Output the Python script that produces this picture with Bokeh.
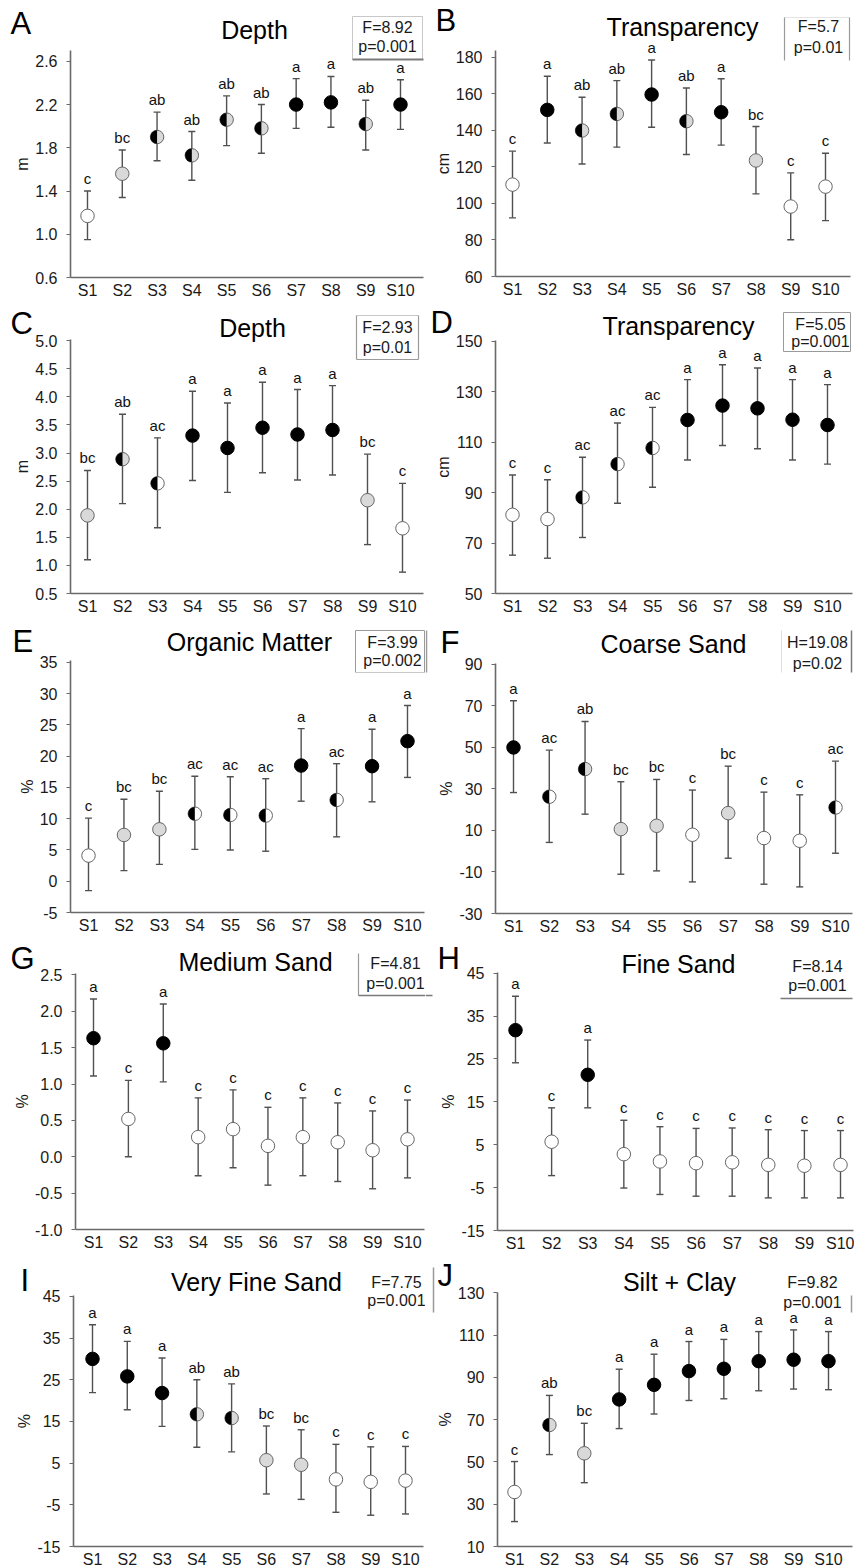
import math
from bokeh.plotting import figure
from bokeh.layouts import column, row
from bokeh.models import (ColumnDataSource, Range1d, FixedTicker, Label, LabelSet,
                          BoxAnnotation, PrintfTickFormatter)
from bokeh.core.properties import value
from bokeh.embed import file_html
from bokeh.resources import INLINE

FONT = "Liberation Sans"

stations = ["S1", "S2", "S3", "S4", "S5", "S6", "S7", "S8", "S9", "S10"]

# ---------------- data ----------------
a_mean = [1.17, 1.56, 1.90, 1.73, 2.06, 1.98, 2.20, 2.22, 2.02, 2.20]
a_lo = [0.95, 1.34, 1.68, 1.50, 1.82, 1.75, 1.98, 1.99, 1.78, 1.97]
a_hi = [1.40, 1.78, 2.13, 1.95, 2.28, 2.20, 2.44, 2.46, 2.24, 2.43]
a_grp = ["c", "bc", "ab", "ab", "ab", "ab", "a", "a", "ab", "a"]
a_ticks = [0.6, 1.0, 1.4, 1.8, 2.2, 2.6]

b_mean = [110.3, 151.2, 139.9, 149.0, 159.6, 145.0, 149.9, 123.5, 98.3, 109.2]
b_lo = [92.1, 133.1, 121.6, 130.8, 141.7, 126.8, 131.9, 105.2, 80.1, 90.6]
b_hi = [128.6, 169.6, 158.1, 167.2, 178.5, 163.2, 168.2, 142.1, 116.7, 127.5]
b_grp = ["c", "a", "ab", "ab", "a", "ab", "a", "bc", "c", "c"]
b_ticks = [60, 80, 100, 120, 140, 160, 180]

c_mean = [1.89, 2.89, 2.46, 3.31, 3.09, 3.45, 3.33, 3.41, 2.16, 1.66]
c_lo = [1.10, 2.10, 1.67, 2.51, 2.30, 2.65, 2.52, 2.61, 1.37, 0.88]
c_hi = [2.69, 3.69, 3.27, 4.10, 3.89, 4.26, 4.13, 4.20, 2.98, 2.46]
c_grp = ["bc", "ab", "ac", "a", "a", "a", "a", "a", "bc", "c"]
c_ticks = [0.5, 1.0, 1.5, 2.0, 2.5, 3.0, 3.5, 4.0, 4.5, 5.0]

d_mean = [81.2, 79.5, 88.1, 101.3, 107.7, 118.8, 124.5, 123.4, 118.9, 116.8]
d_lo = [65.2, 64.0, 72.2, 85.8, 92.1, 102.9, 108.7, 107.4, 102.9, 101.3]
d_hi = [97.0, 95.1, 104.0, 117.6, 123.8, 134.8, 140.7, 139.4, 134.8, 132.8]
d_grp = ["c", "c", "ac", "ac", "ac", "a", "a", "a", "a", "a"]
d_ticks = [50, 70, 90, 110, 130, 150]

e_mean = [4.1, 7.4, 8.3, 10.8, 10.6, 10.5, 18.5, 13.0, 18.4, 22.4]
e_lo = [-1.5, 1.7, 2.7, 5.1, 5.0, 4.8, 12.8, 7.1, 12.7, 16.6]
e_hi = [10.1, 13.1, 14.4, 16.8, 16.7, 16.4, 24.4, 18.8, 24.3, 28.1]
e_grp = ["c", "bc", "bc", "ac", "ac", "ac", "a", "ac", "a", "a"]
e_ticks = [-5, 0, 5, 10, 15, 20, 25, 30, 35]

f_mean = [49.9, 26.2, 39.5, 10.6, 12.2, 7.9, 18.3, 6.3, 5.0, 21.0]
f_lo = [28.2, 4.2, 17.8, -11.1, -9.5, -14.8, -3.4, -15.9, -17.2, -1.0]
f_hi = [72.4, 48.6, 62.4, 33.4, 34.5, 29.4, 40.9, 28.4, 27.1, 43.3]
f_grp = ["a", "ac", "ab", "bc", "bc", "c", "bc", "c", "c", "ac"]
f_ticks = [-30, -10, 10, 30, 50, 70, 90]

g_mean = [1.63, 0.52, 1.56, 0.27, 0.38, 0.15, 0.27, 0.20, 0.09, 0.24]
g_lo = [1.11, 0.00, 1.03, -0.26, -0.15, -0.39, -0.26, -0.34, -0.44, -0.29]
g_hi = [2.17, 1.05, 2.10, 0.81, 0.92, 0.68, 0.81, 0.74, 0.63, 0.78]
g_grp = ["a", "c", "a", "c", "c", "c", "c", "c", "c", "c"]
g_ticks = [-1.0, -0.5, 0.0, 0.5, 1.0, 1.5, 2.0, 2.5]

h_mean = [31.7, 5.7, 21.3, 2.8, 1.1, 0.7, 0.9, 0.3, 0.1, 0.3]
h_lo = [24.1, -2.2, 13.6, -5.1, -6.6, -7.0, -7.0, -7.4, -7.4, -7.4]
h_hi = [39.6, 13.6, 29.4, 10.7, 9.2, 8.8, 8.9, 8.5, 8.3, 8.3]
h_grp = ["a", "c", "a", "c", "c", "c", "c", "c", "c", "c"]
h_ticks = [-15, -5, 5, 15, 25, 35, 45]

i_mean = [30.0, 25.8, 21.8, 16.7, 15.8, 5.7, 4.6, 1.1, 0.5, 0.8]
i_lo = [21.9, 17.8, 13.8, 8.8, 7.7, -2.4, -3.7, -6.8, -7.5, -7.2]
i_hi = [38.2, 34.2, 30.2, 25.0, 24.0, 13.9, 13.0, 9.5, 8.9, 9.0]
i_grp = ["a", "a", "a", "ab", "ab", "bc", "bc", "c", "c", "c"]
i_ticks = [-15, -5, 5, 15, 25, 35, 45]

j_mean = [35.8, 67.5, 54.1, 79.6, 86.5, 93.0, 94.1, 97.7, 98.4, 97.7]
j_lo = [21.8, 53.5, 40.2, 65.8, 72.7, 79.1, 79.9, 83.7, 84.5, 84.2]
j_hi = [50.2, 81.5, 68.3, 93.9, 101.0, 107.0, 108.0, 111.7, 112.5, 111.7]
j_grp = ["c", "ab", "bc", "a", "a", "a", "a", "a", "a", "a"]
j_ticks = [10, 30, 50, 70, 90, 110, 130]

panels = [
    dict(key="A", title="Depth", unit="m", stat=["F=8.92", "p=0.001"], mean=a_mean, lo=a_lo, hi=a_hi, grp=a_grp, ticks=a_ticks, yr=(0.6, 2.70), fmt="%.1f"),
    dict(key="B", title="Transparency", unit="cm", stat=["F=5.7", "p=0.01"], mean=b_mean, lo=b_lo, hi=b_hi, grp=b_grp, ticks=b_ticks, yr=(60, 183.7), fmt="%d"),
    dict(key="C", title="Depth", unit="m", stat=["F=2.93", "p=0.01"], mean=c_mean, lo=c_lo, hi=c_hi, grp=c_grp, ticks=c_ticks, yr=(0.5, 5.02), fmt="%.1f"),
    dict(key="D", title="Transparency", unit="cm", stat=["F=5.05", "p=0.001"], mean=d_mean, lo=d_lo, hi=d_hi, grp=d_grp, ticks=d_ticks, yr=(50, 150.3), fmt="%d"),
    dict(key="E", title="Organic Matter", unit="%", stat=["F=3.99", "p=0.002"], mean=e_mean, lo=e_lo, hi=e_hi, grp=e_grp, ticks=e_ticks, yr=(-5, 35.3), fmt="%d"),
    dict(key="F", title="Coarse Sand", unit="%", stat=["H=19.08", "p=0.02"], mean=f_mean, lo=f_lo, hi=f_hi, grp=f_grp, ticks=f_ticks, yr=(-30, 90.3), fmt="%d"),
    dict(key="G", title="Medium Sand", unit="%", stat=["F=4.81", "p=0.001"], mean=g_mean, lo=g_lo, hi=g_hi, grp=g_grp, ticks=g_ticks, yr=(-1.0, 2.52), fmt="%.1f"),
    dict(key="H", title="Fine Sand", unit="%", stat=["F=8.14", "p=0.001"], mean=h_mean, lo=h_lo, hi=h_hi, grp=h_grp, ticks=h_ticks, yr=(-15, 45.15), fmt="%d"),
    dict(key="I", title="Very Fine Sand", unit="%", stat=["F=7.75", "p=0.001"], mean=i_mean, lo=i_lo, hi=i_hi, grp=i_grp, ticks=i_ticks, yr=(-15, 45.2), fmt="%d"),
    dict(key="J", title="Silt + Clay", unit="%", stat=["F=9.82", "p=0.001"], mean=j_mean, lo=j_lo, hi=j_hi, grp=j_grp, ticks=j_ticks, yr=(10, 130.2), fmt="%d"),
]

# ---------------- layout geometry (page pixels) ----------------
L1, L2, L3 = "#c8c8c8", "#9a9a9a", "#7a7a7a"
geom = {
    "A": dict(x0=0, y0=0, w=425, h=305, fl=70, fr=423, ft=50, fb=277, s1=87, s10=400,
              letter=(10, 23), title=(254, 29), stat=(387, 27, 46),
              lines=[(352, 16, 422, 16, L1, 1), (352, 16, 352, 59, L1, 1), (422, 16, 422, 59, L1, 1), (352, 59, 423, 59, L3, 2)]),
    "B": dict(x0=425, y0=0, w=429, h=305, fl=495, fr=850, ft=50, fb=276, s1=512, s10=825,
              letter=(435, 20), title=(682, 26), stat=(818, 26, 47),
              lines=[(784, 17, 849, 17, "#e4e4e4", 1), (784, 17, 784, 60, L2, 1.2), (849, 17, 849, 60, L2, 1.2)]),
    "C": dict(x0=0, y0=305, w=425, h=312, fl=70, fr=423, ft=339, fb=593, s1=87, s10=402,
              letter=(10, 323), title=(252, 327), stat=(387, 327, 347),
              lines=[(356, 315, 418, 315, L1, 1), (356, 315, 356, 359, L2, 1.2), (418, 315, 418, 359, L2, 1.2), (356, 359, 418, 359, L2, 1.2)]),
    "D": dict(x0=425, y0=305, w=429, h=312, fl=495, fr=852, ft=340, fb=593, s1=512, s10=827,
              letter=(430, 322), title=(678, 325), stat=(820, 324, 341),
              lines=[(783, 312, 850, 312, L2, 1), (783, 312, 783, 351, L2, 1), (850, 312, 850, 351, L2, 1), (783, 351, 850, 351, L2, 1)]),
    "E": dict(x0=0, y0=617, w=425, h=320, fl=70, fr=424, ft=660, fb=912, s1=88, s10=407,
              letter=(12, 641), title=(249, 641), stat=(392, 642, 660),
              lines=[(355, 630, 424, 630, L2, 1), (355, 630, 355, 672, L2, 1), (424, 630, 424, 672, L2, 1), (355, 672, 424, 672, L1, 1)]),
    "F": dict(x0=425, y0=617, w=429, h=320, fl=495, fr=852, ft=663, fb=913, s1=513, s10=835,
              letter=(440, 642), title=(673, 643), stat=(817, 642, 663),
              lines=[(426, 630, 426, 672, L2, 1.5), (781, 630, 781, 672, "#e0e0e0", 1), (851, 630, 851, 672, L3, 1.5)]),
    "G": dict(x0=0, y0=937, w=425, h=315, fl=75, fr=424, ft=973, fb=1229, s1=93, s10=407,
              letter=(10, 958), title=(255, 961), stat=(395, 963, 983),
              lines=[(358, 953, 358, 995, L2, 1.2), (358, 995, 425, 995, L3, 1.5)]),
    "H": dict(x0=425, y0=937, w=429, h=315, fl=497, fr=853, ft=972, fb=1230, s1=515, s10=840,
              letter=(437, 958), title=(678, 963), stat=(817, 966, 985),
              lines=[(425, 995, 432, 995, L3, 1.5), (780, 998, 852, 998, L3, 1.5)]),
    "I": dict(x0=0, y0=1252, w=425, h=316, fl=73, fr=423, ft=1295, fb=1546, s1=92, s10=405,
              letter=(20, 1280), title=(256, 1281), stat=(396, 1282, 1300),
              lines=[]),
    "J": dict(x0=425, y0=1252, w=429, h=316, fl=497, fr=852, ft=1292, fb=1546, s1=514, s10=828,
              letter=(437, 1275), title=(679, 1281), stat=(812, 1282, 1302),
              lines=[(433, 1267, 433, 1312, L2, 1.5), (851, 1295, 851, 1312, L2, 1.5)]),
}

RIGHT_FILL = {"a": "black", "ab": "#d9d9d9", "ac": "white", "bc": "#d9d9d9", "c": "white"}
BAR = "#505050"


def add_label(p, g, X, Y, text, size, align="center", color="#111111"):
    p.add_layout(Label(x=X - g["x0"], y=g["y0"] + g["h"] - Y, x_units="screen", y_units="screen",
                       text=text, text_align=align, text_baseline="middle",
                       text_font=FONT, text_font_size=size, text_color=color))


def add_line(p, g, x1, y1, x2, y2, color, lw):
    if x1 == x2:
        l, r = x1 - lw / 2, x1 + lw / 2
        t, b = min(y1, y2), max(y1, y2)
    else:
        t, b = y1 - lw / 2, y1 + lw / 2
        l, r = min(x1, x2), max(x1, x2)
    base = g["y0"] + g["h"]
    p.add_layout(BoxAnnotation(left=l - g["x0"], right=r - g["x0"], top=base - t, bottom=base - b,
                               left_units="screen", right_units="screen", top_units="screen", bottom_units="screen",
                               fill_color=color, fill_alpha=1.0, line_color=None, level="overlay"))


def make_panel(pd):
    g = geom[pd["key"]]
    sp = (g["s10"] - g["s1"]) / 9.0

    def xd(X):
        return 1 + (X - g["s1"]) / sp

    ymin, ytop = pd["yr"]
    k = (ytop - ymin) / (g["fb"] - g["ft"])
    y_start = ymin - (g["y0"] + g["h"] - g["fb"]) * k
    y_end = ytop + (g["ft"] - g["y0"]) * k

    p = figure(width=g["w"], height=g["h"],
               x_range=Range1d(xd(g["x0"]), xd(g["x0"] + g["w"])),
               y_range=Range1d(y_start, y_end),
               output_backend="svg", toolbar_location=None,
               min_border_left=0, min_border_right=0, min_border_top=0, min_border_bottom=0)
    p.outline_line_color = None
    p.grid.visible = False
    p.background_fill_color = "white"
    p.border_fill_color = "white"

    for ax in p.axis:
        ax.axis_line_color = "#6a6a6a"
        ax.axis_line_width = 1.6
        ax.major_tick_line_color = "#6a6a6a"
        ax.major_tick_in = 0
        ax.minor_tick_line_color = None
        ax.major_label_text_font = FONT
        ax.major_label_text_font_size = "16px"
        ax.major_label_text_color = "#1a1a1a"
    xa = p.xaxis[0]
    xa.fixed_location = ymin
    xa.bounds = (xd(g["fl"]), xd(g["fr"]))
    xa.ticker = FixedTicker(ticks=list(range(1, 11)))
    xa.major_label_overrides = {i + 1: s for i, s in enumerate(stations)}
    xa.major_tick_out = 0
    xa.major_label_standoff = 4
    ya = p.yaxis[0]
    ya.fixed_location = xd(g["fl"])
    ya.bounds = (ymin, ytop)
    ya.ticker = FixedTicker(ticks=pd["ticks"])
    ya.formatter = PrintfTickFormatter(format=pd["fmt"])
    ya.major_tick_out = 4
    ya.major_label_standoff = 9
    ya.axis_label = pd["unit"]
    ya.axis_label_text_font = FONT
    ya.axis_label_text_font_style = "normal"
    ya.axis_label_text_font_size = "16px"
    ya.axis_label_text_color = "#1a1a1a"
    ya.axis_label_standoff = 1

    xs = list(range(1, 11))
    right = [RIGHT_FILL[c] for c in pd["grp"]]
    edge = ["black" if c == "a" else "#666666" for c in pd["grp"]]
    src = ColumnDataSource(dict(x=xs, m=pd["mean"], lo=pd["lo"], hi=pd["hi"], grp=pd["grp"],
                                right=right, edge=edge))
    p.segment(x0="x", y0="lo", x1="x", y1="hi", source=src, line_color=BAR, line_width=1.4)
    p.dash(x="x", y="hi", source=src, size=7, line_color=BAR, line_width=1.4)
    p.dash(x="x", y="lo", source=src, size=7, line_color=BAR, line_width=1.4)
    p.scatter(x="x", y="m", source=src, size=13.5, fill_color="right", line_color="edge", line_width=1)

    half = [i for i, c in enumerate(pd["grp"]) if c in ("ab", "ac")]
    if half:
        hsrc = ColumnDataSource(dict(x=[xs[i] for i in half], m=[pd["mean"][i] for i in half]))
        p.wedge(x="x", y="m", source=hsrc, radius=6.75, radius_units="screen",
                start_angle=math.pi / 2, end_angle=3 * math.pi / 2,
                fill_color="black", line_color=None)

    p.add_layout(LabelSet(x="x", y="hi", text="grp", source=src, y_offset=4,
                          text_align="center", text_baseline="bottom",
                          text_font=value(FONT), text_font_size="15px", text_color="#111111"))

    lx, ly = g["letter"]
    add_label(p, g, lx, ly, pd["key"], "31px", align="left", color="black")
    tx, ty = g["title"]
    add_label(p, g, tx, ty, pd["title"], "25px", color="black")
    sx, sy1, sy2 = g["stat"]
    add_label(p, g, sx, sy1, pd["stat"][0], "16px", color="#1a1a1a")
    add_label(p, g, sx, sy2, pd["stat"][1], "16px", color="#1a1a1a")
    for (x1, y1, x2, y2, c, lw) in g["lines"]:
        add_line(p, g, x1, y1, x2, y2, c, lw)
    return p


figs = [make_panel(pd) for pd in panels]
layout = column(*[row(figs[2 * r], figs[2 * r + 1]) for r in range(5)])

open("out.html", "w").write(file_html(layout, INLINE))
